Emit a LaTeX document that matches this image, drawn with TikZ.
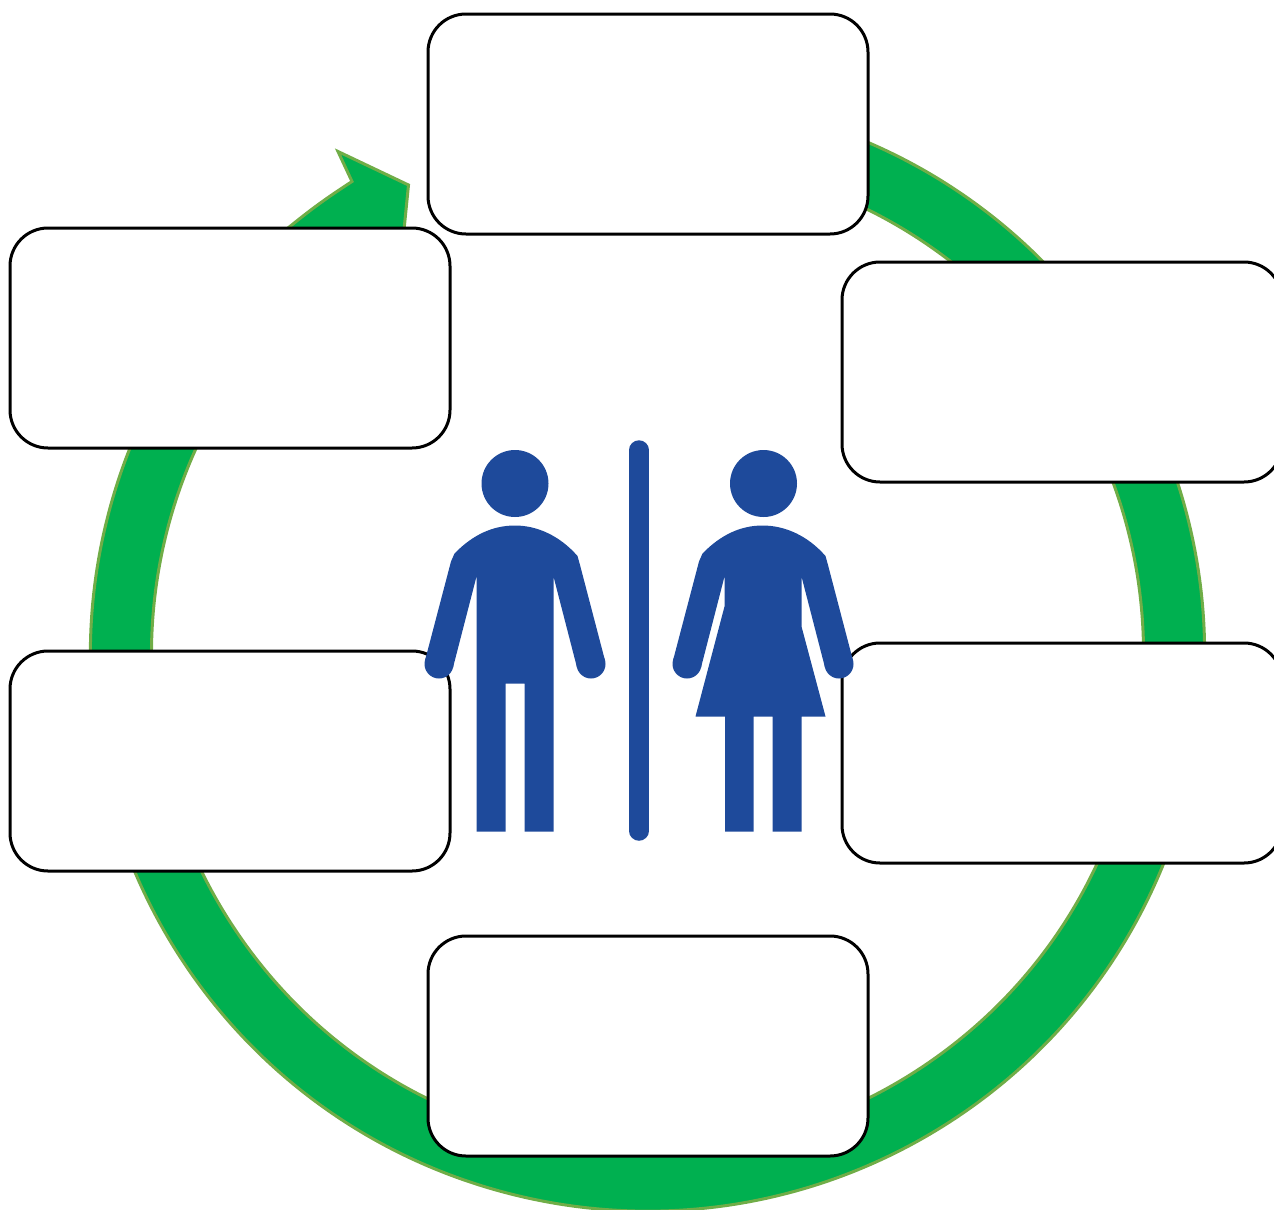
\documentclass[tikz,border=0pt]{standalone}
\definecolor{ringgreen}{HTML}{00B050}
\definecolor{ringedge}{HTML}{70AD47}
\definecolor{signblue}{HTML}{1E4A9B}

\begin{document}
\begin{tikzpicture}[
  ring/.style={fill=ringgreen, draw=ringedge, line width=0.06cm, miter limit=10},
  card/.style={draw=black, line width=0.06cm, fill=white, rounded corners=0.76cm,
    minimum width=8.8cm, minimum height=4.4cm},
  sign/.style={fill=signblue}
]
\useasboundingbox (0,0) rectangle (25.48,-24.18);

% Ring with arrow head
\draw[ring] (12.95,-13.08) ++(75:11.14) arc[start angle=75, end angle=-225, radius=11.14]
  -- (5.76,-4.56) to[bend left=3] (7.04,-3.63) -- (6.76,-3.03) -- (8.17,-3.7) -- (8.06,-4.8)
  -- ([shift={(-234:9.92)}]12.95,-13.08) arc[start angle=-234, end angle=75, radius=9.92] -- cycle;

% Cards
\node[card] (top) at (12.96,-2.48) {};
\node[card] (upperleft) at (4.6,-6.76) {};
\node[card] (upperright) at (21.24,-7.44) {};
\node[card] (lowerleft) at (4.6,-15.22) {};
\node[card] (lowerright) at (21.24,-15.06) {};
\node[card] (bottom) at (12.96,-20.92) {};

% Man
\fill[sign] (10.30,-9.67) circle (0.67);
\fill[sign] (9.09,-11.07) .. controls (9.45,-10.7) and (9.85,-10.51) .. (10.30,-10.51)
  .. controls (10.75,-10.51) and (11.2,-10.72) .. (11.55,-11.12)
  -- (11.60,-11.30) -- (12.10,-13.21) -- (11.54,-13.35) -- (11.07,-11.53)
  -- (11.07,-16.63) -- (10.49,-16.63) -- (10.49,-13.67) -- (10.11,-13.67)
  -- (10.11,-16.63) -- (9.53,-16.63) -- (9.53,-11.53) -- (9.06,-13.35)
  -- (8.50,-13.21) -- (9.02,-11.23) -- cycle;
\fill[sign] (8.78,-13.28) circle (0.29);
\fill[sign] (11.82,-13.28) circle (0.29);

% Divider
\draw[signblue, line width=0.39cm, line cap=round] (12.78,-9.0) -- (12.78,-16.62);

% Woman
\fill[sign] (15.27,-9.67) circle (0.67);
\fill[sign] (14.05,-11.07) .. controls (14.41,-10.7) and (14.81,-10.51) .. (15.25,-10.51)
  .. controls (15.71,-10.51) and (16.16,-10.72) .. (16.51,-11.12)
  -- (16.56,-11.30) -- (17.06,-13.21) -- (16.50,-13.35) -- (16.03,-11.53)
  -- (16.03,-12.53) -- (16.51,-14.33) -- (16.03,-14.33) -- (16.03,-16.63)
  -- (15.45,-16.63) -- (15.45,-14.33) -- (15.07,-14.33) -- (15.07,-16.63)
  -- (14.50,-16.63) -- (14.50,-14.33) -- (13.91,-14.33) -- (14.49,-12.13)
  -- (14.49,-11.53) -- (14.02,-13.35) -- (13.46,-13.21) -- (13.98,-11.23) -- cycle;
\fill[sign] (13.74,-13.28) circle (0.29);
\fill[sign] (16.78,-13.28) circle (0.29);
\end{tikzpicture}
\end{document}
